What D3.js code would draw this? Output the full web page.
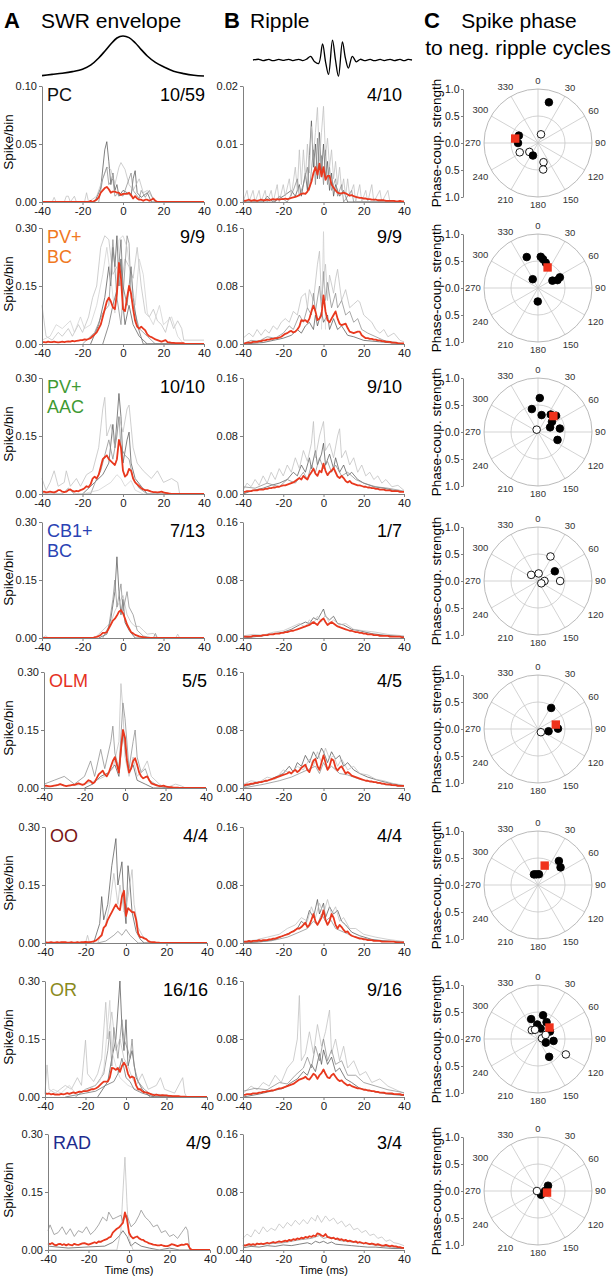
<!DOCTYPE html>
<html>
<head>
<meta charset="utf-8">
<title>SWR spike timing</title>
<script src="https://cdn.jsdelivr.net/npm/d3@7"></script>
<style>
  body { margin: 0; background: #fff; }
  svg text { font-family: Arial, "Liberation Sans", sans-serif; }
</style>
</head>
<body>
<svg width="615" height="1280" id="mainsvg"></svg>
<script>
// ---------- data ----------
const labelLines = [['PC'], ['PV+', 'BC'], ['PV+', 'AAC'], ['CB1+', 'BC'], ['OLM'], ['OO'], ['OR'], ['RAD']]
const labelColors = ['#111111', '#f07822', '#3f9a33', '#2a43b4', '#e5321f', '#7a1616', '#8a8a1c', '#1d2c8e']
const countsA = ['10/59', '9/9', '10/10', '7/13', '5/5', '4/4', '16/16', '4/9']
const countsB = ['4/10', '9/9', '9/10', '1/7', '4/5', '4/4', '9/16', '3/4']
const timeTicks = [-40, -20, 0, 20, 40]
const yMaxA = [0.10, 0.30, 0.30, 0.30, 0.30, 0.30, 0.30, 0.30]
const yMaxB = [0.02, 0.16, 0.16, 0.16, 0.16, 0.16, 0.16, 0.16]
const timeStart = -40   // mean traces: 1 ms bins from -40 to 40

// SWR envelope and ripple example traces (time ms, relative amplitude)
const swrEnvelope = [[-40,0.01],[-35,0.04],[-30,0.07],[-25,0.11],[-20,0.17],[-16,0.27],[-12,0.45],[-9,0.62],[-6,0.8],[-3,0.95],[0,1],[3,0.96],[6,0.83],[9,0.66],[12,0.5],[16,0.34],[20,0.23],[25,0.12],[30,0.06],[35,0.02],[40,0]]
const rippleTrace = [[-40,0],[-37,0.04],[-35,-0.03],[-32,0.03],[-30,-0.04],[-27,0.03],[-25,-0.02],[-22,0.04],[-20,-0.03],[-17,0.04],[-15,-0.03],[-13,0.05],[-11,0.2],[-9,-0.1],[-7,-0.2],[-5,0.9],[-3.5,-0.1],[-2,-0.8],[0,1.1],[1.5,0],[3,-0.9],[5,1.0],[6.5,0.1],[8,-0.45],[10,0.2],[12,-0.1],[14,0.04],[16,-0.03],[19,0.03],[21,-0.04],[24,0.03],[26,-0.03],[29,0.04],[31,-0.03],[34,0.03],[36,-0.04],[38,0.03],[40,0]]

// column A: mean spike probability around SWR envelope peak
const meanA = [
  [0,0,0,0,0,0,0,0,0,0, 0,0,0,0,0,0,0,0,0,0,
   0,0,0,0,0.001,0,0.001,0.002,0.004,0.008,
   0.010,0.012,0.013,0.011,0.008,0.009,0.009,0.008,0.008,0.006,
   0.007,0.007,0.007,0.008,0.006,0.003,0.005,0.003,0.002,0.002,
   0.001,0.002,0.002,0.001,0.002,0.003,0.001,0,0,0,
   0,0,0,0,0,0,0,0,0,0, 0,0,0,0,0,0,0,0,0,0,0],
  [0.005,0.005,0.004,0.006,0.005,0.005,0.006,0.005,0.004,0.005,
   0.006,0.005,0.006,0.007,0.006,0.008,0.007,0.008,0.009,0.01,
   0.01,0.012,0.011,0.013,0.015,0.02,0.025,0.03,0.04,0.05,
   0.07,0.09,0.11,0.12,0.11,0.095,0.09,0.13,0.21,0.17,
   0.09,0.085,0.12,0.15,0.13,0.09,0.06,0.045,0.04,0.045,
   0.04,0.035,0.025,0.02,0.018,0.015,0.012,0.01,0.008,0.006,
   0.008,0.01,0.005,0.004,0.003,0.003,0.002,0.002,0.002,0.002,
   0.002,0,0,0,0,0,0,0,0,0,0],
  [0.005,0.006,0.004,0.005,0.006,0.005,0.004,0.006,0.01,0.01,
   0.006,0.005,0.006,0.01,0.012,0.008,0.006,0.008,0.007,0.01,
   0.012,0.015,0.02,0.018,0.025,0.04,0.045,0.04,0.05,0.07,
   0.09,0.095,0.1,0.09,0.085,0.08,0.075,0.09,0.14,0.12,
   0.06,0.045,0.05,0.065,0.06,0.04,0.03,0.025,0.02,0.015,
   0.012,0.01,0.01,0.008,0.006,0.005,0.005,0.004,0.005,0.006,
   0.004,0.003,0.002,0.001,0,0,0,0,0,0,
   0,0,0,0,0,0,0,0,0,0,0],
  [0,0,0,0,0,0,0,0,0,0,
   0,0,0,0,0,0,0,0,0,0,
   0,0,0,0,0,0,0.002,0.003,0.005,0.008,
   0.013,0.013,0.015,0.025,0.035,0.045,0.05,0.058,0.068,0.072,
   0.064,0.05,0.035,0.025,0.015,0.012,0.008,0.006,0.004,0.003,
   0.002,0.001,0,0,0,0,0,0,0,0,
   0,0,0,0,0,0,0,0,0,0,
   0,0,0,0,0,0,0,0,0,0,0],
  [0.005,0.006,0.005,0.004,0.005,0.006,0.007,0.008,0.01,0.008,
   0.006,0.005,0.006,0.007,0.008,0.008,0.01,0.012,0.01,0.008,
   0.01,0.015,0.02,0.018,0.012,0.015,0.025,0.035,0.04,0.045,
   0.035,0.03,0.04,0.055,0.07,0.08,0.06,0.04,0.1,0.15,
   0.13,0.07,0.04,0.05,0.07,0.077,0.06,0.04,0.03,0.025,
   0.028,0.03,0.02,0.012,0.01,0.008,0.006,0.005,0.005,0.006,
   0.004,0.003,0.002,0.002,0.001,0.001,0.001,0,0,0,
   0,0,0,0,0,0,0,0,0,0,0],
  [0.002,0.001,0.001,0.002,0.001,0.001,0.002,0.001,0.002,0.002,
   0.002,0.001,0.001,0.002,0.001,0.001,0.002,0.001,0.002,0.002,
   0.003,0.002,0.002,0.003,0.004,0.006,0.01,0.015,0.02,0.04,
   0.045,0.06,0.07,0.08,0.09,0.1,0.09,0.085,0.12,0.135,
   0.07,0.09,0.085,0.08,0.08,0.06,0.025,0.015,0.015,0.012,
   0.01,0.005,0.003,0.002,0.002,0.001,0.001,0,0,0,
   0,0,0,0,0,0,0,0,0,0,
   0,0,0,0,0,0,0,0,0,0,0],
  [0.01,0.008,0.009,0.007,0.008,0.006,0.007,0.006,0.008,0.007,
   0.008,0.01,0.008,0.01,0.012,0.01,0.012,0.014,0.013,0.015,
   0.015,0.016,0.018,0.02,0.02,0.022,0.025,0.03,0.035,0.04,
   0.04,0.04,0.05,0.075,0.074,0.07,0.075,0.065,0.08,0.089,
   0.08,0.06,0.05,0.053,0.05,0.03,0.02,0.02,0.015,0.012,
   0.012,0.01,0.008,0.006,0.005,0.006,0.005,0.004,0.005,0.004,
   0.004,0.003,0.003,0.002,0.002,0.002,0.002,0.001,0.001,0.001,
   0,0,0,0,0,0,0,0,0,0,0],
  [0.017,0.015,0.018,0.014,0.012,0.015,0.016,0.013,0.015,0.012,
   0.015,0.013,0.012,0.016,0.014,0.013,0.015,0.017,0.018,0.016,
   0.014,0.016,0.018,0.02,0.018,0.022,0.021,0.024,0.026,0.028,
   0.032,0.034,0.045,0.05,0.055,0.058,0.064,0.07,0.097,0.08,
   0.045,0.035,0.03,0.033,0.035,0.03,0.027,0.026,0.022,0.02,
   0.017,0.016,0.014,0.013,0.012,0.012,0.013,0.011,0.01,0.01,
   0.012,0.015,0.014,0.012,0.01,0.012,0.014,0.013,0.015,0.015,
   0.005,0,0,0,0,0,0,0,0,0,0]
]

// column A: individual cells (time ms, spike/bin)
const cellsA = [
  [
    [[-14,0],[-11,0.012],[-9,0.045],[-8,0.052],[-7,0.035],[-6,0.015],[-5,0.025],[-4,0.01],[-3,0.015],[-2,0.005],[0,0.01],[2,0.008],[4,0.005],[5,0.02],[6,0.027],[7,0.008],[9,0.004],[12,0.008],[14,0],[16,0]],
    [[-40,0],[-35,0],[-34,0.004],[-33,0],[-29,0],[-28,0.005],[-27,0.005],[-26,0],[-24,0.005],[-23,0],[-19,0],[-18,0.008],[-17,0],[-13,0.005],[-10,0.02],[-8,0.03],[-6,0.028],[-4,0.015],[-2,0.03],[-1,0.034],[1,0.028],[3,0.015],[5,0.01],[8,0.02],[10,0.008],[12,0.01],[14,0.005],[16,0],[40,0]],
    [[-12,0],[-10,0.02],[-8,0.03],[-7,0.015],[-5,0.02],[-4,0.005],[-2,0.008],[0,0.005],[3,0.02],[4,0.025],[5,0.01],[8,0.003],[9,0.01],[11,0.004],[13,0.01],[15,0.002],[17,0]]
  ],
  [
    [[-16,0],[-12,0.05],[-9,0.12],[-7,0.2],[-6,0.15],[-5,0.25],[-4,0.2],[-3,0.28],[-2,0.15],[-1,0.22],[0,0.1],[1,0.05],[3,0.1],[5,0.05],[8,0.02],[12,0],[40,0]],
    [[-40,0.1],[-38,0.02],[-35,0.01],[-32,0.03],[-30,0.02],[-27,0.04],[-25,0.02],[-22,0.05],[-20,0.03],[-17,0.07],[-15,0.12],[-13,0.15],[-11,0.25],[-9,0.28],[-7,0.27],[-5,0.18],[-3,0.2],[-1,0.15],[1,0.22],[3,0.2],[5,0.17],[7,0.25],[9,0.15],[11,0.08],[13,0.07],[15,0.09],[17,0.06],[19,0.05],[21,0.03],[23,0.07],[25,0.04],[27,0.06],[29,0.04],[30,0.01],[40,0.01]],
    [[-20,0],[-14,0.03],[-10,0.08],[-7,0.1],[-5,0.27],[-3,0.12],[-1,0.05],[1,0.2],[2,0.28],[3,0.26],[4,0.12],[6,0.08],[8,0.04],[12,0.02],[16,0],[40,0]],
    [[-40,0.01],[-36,0.02],[-33,0.05],[-30,0.04],[-26,0.06],[-24,0.03],[-21,0.07],[-19,0.04],[-16,0.05],[-13,0.1],[-10,0.18],[-8,0.25],[-6,0.17],[-4,0.08],[-2,0.27],[0,0.28],[2,0.25],[4,0.17],[6,0.1],[8,0.22],[10,0.18],[12,0.08],[15,0.05],[18,0.1],[20,0.05],[24,0.07],[27,0.02],[30,0],[40,0]],
    [[-10,0],[-7,0.05],[-5,0.1],[-3,0.14],[-1,0.27],[0,0.15],[2,0.1],[4,0.2],[5,0.12],[7,0.05],[10,0],[40,0]]
  ],
  [
    [[-20,0],[-14,0.03],[-10,0.05],[-7,0.08],[-5,0.18],[-4,0.12],[-2,0.26],[-1,0.2],[0,0.08],[2,0.14],[3,0.16],[4,0.08],[6,0.04],[9,0.02],[12,0],[40,0]],
    [[-40,0.04],[-38,0.01],[-36,0.03],[-34,0.06],[-32,0.02],[-29,0.03],[-28,0.06],[-26,0.02],[-23,0.04],[-21,0.02],[-18,0.05],[-15,0.06],[-12,0.12],[-10,0.22],[-9,0.25],[-8,0.15],[-6,0.18],[-4,0.12],[-2,0.2],[0,0.16],[2,0.22],[3,0.23],[5,0.12],[7,0.08],[10,0.06],[14,0.04],[17,0.06],[20,0.03],[24,0.04],[27,0.03],[28,0],[40,0]],
    [[-40,0],[-30,0],[-27,0.015],[-24,0],[-16,0],[-13,0.04],[-11,0.06],[-9,0.1],[-7,0.14],[-5,0.09],[-3,0.15],[-2,0.2],[-1,0.12],[1,0.1],[3,0.09],[5,0.04],[8,0.015],[12,0],[40,0]],
    [[-20,0],[-12,0.01],[-6,0.03],[-3,0.05],[-1,0.04],[1,0.02],[4,0.035],[6,0.01],[10,0],[40,0]]
  ],
  [
    [[-12,0],[-8,0.01],[-6,0.05],[-4,0.12],[-3,0.21],[-2,0.12],[-1,0.06],[0,0.1],[1,0.04],[3,0.02],[6,0],[40,0]],
    [[-40,0],[-38,0.006],[-37,0],[-14,0],[-12,0.01],[-10,0.02],[-8,0.03],[-6,0.04],[-4,0.07],[-2,0.09],[0,0.11],[2,0.06],[4,0.04],[6,0.03],[8,0.03],[10,0.02],[12,0.01],[15,0.012],[17,0],[26,0],[27,0.01],[28,0],[40,0]],
    [[-10,0],[-7,0.03],[-5,0.1],[-4,0.15],[-3,0.08],[-1,0.14],[0,0.07],[2,0.12],[3,0.08],[5,0.06],[7,0.02],[10,0.005],[15,0],[16,0.012],[17,0],[40,0]]
  ],
  [
    [[-20,0],[-16,0.01],[-12,0.03],[-8,0.04],[-5,0.06],[-3,0.03],[-1,0.15],[0,0.1],[2,0.04],[4,0.06],[6,0.02],[10,0.01],[14,0],[40,0]],
    [[-40,0],[-32,0.01],[-28,0.005],[-20,0.01],[-14,0.02],[-10,0.03],[-6,0.05],[-3,0.12],[-2,0.27],[-1,0.2],[0,0.08],[2,0.03],[4,0.08],[6,0.03],[9,0.05],[11,0.07],[13,0.03],[17,0.01],[20,0],[25,0.01],[28,0.005],[30,0],[40,0]],
    [[-40,0.01],[-35,0.02],[-30,0.03],[-25,0.01],[-20,0.03],[-17,0.07],[-15,0.03],[-12,0.1],[-10,0.05],[-7,0.12],[-6,0.16],[-5,0.09],[-3,0.05],[-1,0.22],[0,0.18],[2,0.05],[4,0.12],[5,0.15],[6,0.08],[8,0.04],[10,0.05],[12,0.02],[15,0.01],[20,0],[40,0]]
  ],
  [
    [[-16,0],[-13,0.05],[-12,0.12],[-11,0.06],[-9,0.1],[-7,0.2],[-5,0.27],[-4,0.15],[-2,0.21],[-1,0.1],[0,0.05],[1,0.2],[2,0.15],[3,0.08],[5,0.03],[7,0.01],[9,0],[40,0]],
    [[-20,0],[-19,0.02],[-18,0],[-14,0],[-10,0.05],[-8,0.1],[-6,0.18],[-4,0.1],[-3,0.15],[-1,0.08],[1,0.12],[3,0.19],[4,0.1],[6,0.04],[8,0.02],[11,0.005],[14,0],[40,0]],
    [[-14,0],[-10,0.005],[-6,0.02],[-4,0.03],[-2,0.02],[0,0.035],[2,0.02],[4,0.01],[6,0],[40,0]]
  ],
  [
    [[-14,0],[-9,0.04],[-7,0.1],[-5,0.15],[-3,0.3],[-2,0.18],[-1,0.12],[0,0.2],[1,0.08],[3,0.12],[5,0.05],[8,0.02],[12,0],[40,0]],
    [[-40,0.01],[-39,0.083],[-38,0.02],[-35,0.01],[-30,0.03],[-27,0.02],[-24,0.05],[-22,0.03],[-20,0.147],[-19,0.06],[-16,0.04],[-14,0.06],[-12,0.1],[-10,0.245],[-9,0.15],[-7,0.22],[-5,0.12],[-3,0.15],[-1,0.1],[1,0.08],[3,0.05],[5,0.03],[8,0.06],[11,0.02],[15,0.03],[17,0.05],[19,0.02],[24,0.01],[28,0.05],[29,0.01],[30,0],[40,0]],
    [[-25,0],[-20,0.02],[-15,0.03],[-11,0.06],[-9,0.12],[-8,0.17],[-7,0.08],[-6,0.18],[-4,0.1],[-2,0.2],[-1,0.15],[1,0.12],[2,0.1],[3,0.15],[4,0.08],[6,0.04],[9,0.02],[14,0],[40,0]],
    [[-40,0.005],[-36,0.02],[-32,0.01],[-28,0.03],[-25,0.01],[-18,0.02],[-13,0.04],[-11,0.07],[-8,0.25],[-7,0.12],[-5,0.08],[-3,0.05],[-1,0.04],[1,0.03],[5,0.02],[10,0.01],[20,0.005],[30,0],[40,0]],
    [[-30,0],[-20,0.01],[-15,0.015],[-10,0.03],[-6,0.04],[-4,0.06],[-2,0.1],[0,0.05],[2,0.04],[4,0.02],[8,0.01],[14,0],[40,0]]
  ],
  [
    [[-40,0.01],[-30,0.005],[-20,0.008],[-12,0.01],[-8,0.02],[-5,0.035],[-3,0.05],[-1,0.035],[1,0.01],[3,0.02],[6,0.01],[10,0.005],[15,0],[20,0.005],[25,0],[30,0],[40,0]],
    [[-40,0],[-6,0],[-4,0.05],[-3,0.15],[-2,0.24],[-1,0.12],[0,0.03],[2,0],[40,0]],
    [[-40,0.05],[-39,0.065],[-37,0.04],[-35,0.045],[-33,0.06],[-31,0.04],[-29,0.055],[-27,0.035],[-25,0.05],[-23,0.045],[-21,0.06],[-19,0.04],[-17,0.05],[-15,0.065],[-13,0.085],[-11,0.075],[-10,0.098],[-8,0.08],[-6,0.085],[-4,0.09],[-3,0.075],[-1,0.09],[1,0.06],[3,0.07],[5,0.09],[6,0.103],[8,0.085],[10,0.075],[12,0.06],[14,0.065],[16,0.045],[18,0.05],[20,0.035],[22,0.04],[24,0.03],[26,0.045],[28,0.06],[29,0.05],[30,0],[40,0]]
  ]
]

// column B: mean spike probability around ripple troughs
const meanB = [
  [0.0003,0.0002,0.0003,0.0004,0.0002,0.0003,0.0003,0.0002,0.0003,0.0004,
   0.0003,0.0003,0.0004,0.0003,0.0004,0.0005,0.0004,0.0005,0.0004,0.0005,
   0.0005,0.0006,0.0005,0.0006,0.0007,0.0008,0.0009,0.001,0.0012,0.0014,
   0.0015,0.0014,0.0018,0.0025,0.0035,0.005,0.006,0.0047,0.0066,0.0044,
   0.006,0.0038,0.0045,0.0045,0.003,0.0025,0.002,0.0016,0.0015,0.0015,
   0.0016,0.0015,0.0013,0.0011,0.0012,0.001,0.0009,0.0008,0.0007,0.0007,
   0.0006,0.0006,0.0005,0.0005,0.0004,0.0004,0.0004,0.0003,0.0003,0.0003,
   0.0003,0.0002,0.0002,0.0002,0.0002,0.0002,0.0001,0.0001,0.0002,0.0001,0.0001],
  [0.001,0.001,0.002,0.002,0.002,0.003,0.003,0.003,0.004,0.004,
   0.005,0.005,0.006,0.006,0.007,0.007,0.008,0.008,0.009,0.01,
   0.012,0.014,0.015,0.017,0.018,0.016,0.017,0.02,0.024,0.033,
   0.032,0.033,0.03,0.035,0.045,0.053,0.045,0.033,0.035,0.04,
   0.067,0.045,0.033,0.03,0.035,0.04,0.045,0.035,0.028,0.026,
   0.027,0.028,0.022,0.017,0.016,0.015,0.016,0.017,0.017,0.012,
   0.01,0.008,0.008,0.007,0.007,0.006,0.006,0.005,0.005,0.004,
   0.004,0.003,0.003,0.003,0.002,0.002,0.002,0.001,0.001,0.001,0.001],
  [0.003,0.003,0.004,0.004,0.004,0.005,0.005,0.005,0.006,0.006,
   0.006,0.007,0.007,0.008,0.008,0.009,0.009,0.01,0.01,0.011,
   0.012,0.012,0.013,0.014,0.015,0.016,0.018,0.02,0.022,0.02,
   0.025,0.022,0.02,0.026,0.03,0.035,0.028,0.025,0.032,0.03,
   0.042,0.032,0.026,0.03,0.032,0.036,0.03,0.024,0.022,0.025,
   0.022,0.018,0.016,0.018,0.015,0.014,0.013,0.012,0.012,0.011,
   0.01,0.01,0.009,0.009,0.008,0.008,0.007,0.007,0.006,0.006,
   0.006,0.005,0.005,0.005,0.004,0.004,0.004,0.004,0.003,0.003,0.003],
  [0.002,0.002,0.002,0.002,0.002,0.003,0.003,0.003,0.003,0.003,
   0.004,0.004,0.004,0.005,0.005,0.005,0.006,0.006,0.006,0.007,
   0.007,0.008,0.008,0.009,0.01,0.01,0.011,0.012,0.013,0.014,
   0.015,0.016,0.017,0.018,0.02,0.022,0.02,0.018,0.022,0.025,
   0.027,0.022,0.018,0.02,0.022,0.02,0.018,0.016,0.015,0.014,
   0.013,0.012,0.011,0.01,0.01,0.009,0.008,0.008,0.007,0.007,
   0.006,0.006,0.005,0.005,0.005,0.004,0.004,0.004,0.003,0.003,
   0.003,0.003,0.003,0.002,0.002,0.002,0.002,0.002,0.002,0.001,0.001],
  [0.004,0.004,0.005,0.005,0.006,0.006,0.007,0.007,0.008,0.008,
   0.009,0.01,0.01,0.011,0.012,0.013,0.014,0.015,0.016,0.017,
   0.018,0.019,0.02,0.022,0.02,0.023,0.025,0.022,0.024,0.028,
   0.03,0.032,0.025,0.022,0.03,0.038,0.04,0.03,0.025,0.035,
   0.045,0.035,0.025,0.03,0.04,0.038,0.028,0.024,0.028,0.03,
   0.025,0.02,0.022,0.02,0.017,0.016,0.015,0.014,0.013,0.012,
   0.011,0.01,0.01,0.009,0.009,0.008,0.008,0.007,0.007,0.006,
   0.006,0.005,0.005,0.005,0.004,0.004,0.004,0.003,0.003,0.003,0.003],
  [0.002,0.002,0.002,0.003,0.002,0.003,0.003,0.003,0.004,0.003,
   0.004,0.004,0.004,0.005,0.005,0.006,0.006,0.007,0.008,0.009,
   0.01,0.011,0.012,0.013,0.015,0.016,0.018,0.02,0.02,0.022,
   0.025,0.028,0.022,0.025,0.032,0.04,0.03,0.025,0.03,0.035,
   0.045,0.032,0.025,0.03,0.04,0.035,0.025,0.02,0.025,0.022,
   0.018,0.015,0.016,0.012,0.01,0.009,0.008,0.007,0.006,0.006,
   0.005,0.005,0.004,0.004,0.004,0.003,0.003,0.003,0.003,0.002,
   0.002,0.002,0.002,0.002,0.002,0.002,0.001,0.001,0.001,0.001,0.001],
  [0.003,0.003,0.004,0.004,0.004,0.005,0.005,0.005,0.006,0.006,
   0.007,0.007,0.008,0.008,0.009,0.009,0.01,0.011,0.012,0.012,
   0.013,0.014,0.015,0.016,0.017,0.018,0.02,0.022,0.024,0.025,
   0.026,0.028,0.025,0.024,0.028,0.032,0.03,0.025,0.03,0.033,
   0.038,0.032,0.027,0.026,0.03,0.032,0.028,0.024,0.022,0.023,
   0.02,0.018,0.016,0.017,0.015,0.014,0.013,0.012,0.012,0.011,
   0.01,0.01,0.009,0.009,0.008,0.008,0.007,0.007,0.006,0.006,
   0.006,0.005,0.005,0.005,0.005,0.004,0.004,0.004,0.004,0.003,0.003],
  [0.007,0.006,0.007,0.008,0.007,0.008,0.007,0.009,0.008,0.009,
   0.008,0.009,0.01,0.009,0.01,0.011,0.01,0.011,0.012,0.011,
   0.012,0.013,0.012,0.014,0.013,0.015,0.014,0.016,0.015,0.017,
   0.016,0.018,0.017,0.019,0.018,0.02,0.019,0.023,0.022,0.02,
   0.019,0.022,0.018,0.017,0.016,0.017,0.015,0.016,0.014,0.015,
   0.013,0.014,0.012,0.013,0.012,0.011,0.012,0.01,0.011,0.01,
   0.009,0.01,0.009,0.008,0.009,0.008,0.007,0.008,0.007,0.006,
   0.006,0.007,0.006,0.005,0.006,0.005,0.005,0.004,0.004,0.003,0.003]
]

// column B: individual cells (time ms, spike/bin)
const cellsB = [
  [
    [[-40,0],[-30,0],[-28,0.001],[-25,0],[-20,0.001],[-16,0.002],[-14,0.001],[-12,0.003],[-11,0.001],[-9,0.005],[-8,0.002],[-7,0.008],[-6,0.014],[-5,0.006],[-4,0.01],[-3,0.004],[-2,0.012],[-1,0.005],[0,0.01],[1,0.004],[2,0.007],[3,0.002],[4,0.005],[5,0.001],[6,0.003],[8,0.001],[10,0.002],[12,0],[40,0]],
    [[-40,0],[-38,0.002],[-37,0],[-35,0.002],[-34,0],[-32,0.002],[-31,0],[-29,0.002],[-28,0],[-26,0.002],[-25,0],[-23,0.003],[-22,0],[-20,0.003],[-19,0.001],[-17,0.004],[-16,0.001],[-14,0.006],[-13,0.002],[-12,0.009],[-11,0.003],[-10,0.009],[-9,0.004],[-8,0.01],[-7,0.005],[-6,0.013],[-5,0.008],[-4,0.012],[-3,0.0163],[-2,0.007],[-1,0.012],[0,0.0165],[1,0.008],[2,0.011],[3,0.006],[4,0.009],[5,0.004],[6,0.007],[7,0.003],[8,0.006],[9,0.002],[10,0.004],[11,0.001],[12,0.004],[13,0.001],[15,0.003],[16,0],[18,0.003],[19,0],[21,0.002],[22,0],[24,0.003],[25,0],[28,0.002],[29,0],[32,0.002],[33,0],[40,0]],
    [[-40,0],[-24,0],[-22,0.001],[-18,0],[-15,0.002],[-13,0.004],[-12,0.001],[-10,0.003],[-8,0.006],[-7,0.002],[-5,0.009],[-4,0.003],[-3,0.011],[-2,0.004],[-1,0.008],[0,0.003],[1,0.009],[2,0.003],[3,0.006],[4,0.002],[6,0.004],[7,0.001],[9,0.003],[10,0],[14,0.002],[15,0],[40,0]]
  ],
  [
    [[-40,0],[-30,0.002],[-25,0.005],[-20,0.008],[-16,0.012],[-13,0.02],[-11,0.015],[-9,0.025],[-7,0.03],[-5,0.02],[-4,0.04],[-3,0.025],[-1,0.045],[0,0.03],[2,0.04],[3,0.02],[5,0.035],[7,0.02],[9,0.025],[12,0.012],[15,0.01],[20,0.005],[28,0.003],[40,0]],
    [[-40,0.008],[-37,0.015],[-35,0.01],[-33,0.02],[-31,0.012],[-29,0.02],[-27,0.015],[-25,0.025],[-23,0.02],[-21,0.03],[-19,0.035],[-17,0.03],[-15,0.045],[-13,0.04],[-11,0.065],[-9,0.07],[-8,0.05],[-7,0.075],[-5,0.06],[-3,0.11],[-2,0.128],[-1,0.06],[0,0.09],[1,0.11],[2,0.06],[3,0.095],[5,0.07],[6,0.09],[7,0.103],[9,0.06],[11,0.075],[13,0.05],[15,0.055],[17,0.06],[18,0.058],[20,0.04],[22,0.035],[24,0.03],[26,0.02],[28,0.015],[30,0.02],[32,0.01],[35,0.015],[38,0.005],[40,0.003]],
    [[-40,0],[-36,0.005],[-32,0.004],[-28,0.01],[-24,0.008],[-20,0.015],[-17,0.025],[-15,0.02],[-12,0.04],[-10,0.03],[-8,0.05],[-6,0.04],[-5,0.07],[-4,0.045],[-2,0.08],[-1,0.05],[0,0.1],[1,0.06],[2,0.085],[4,0.05],[6,0.07],[7,0.05],[9,0.06],[11,0.04],[13,0.045],[15,0.03],[17,0.035],[19,0.02],[22,0.015],[26,0.01],[30,0.005],[36,0.002],[40,0]],
    [[-1,0.02],[0,0.155],[1,0.02]]
  ],
  [
    [[-40,0],[-35,0.005],[-30,0.008],[-26,0.012],[-22,0.015],[-18,0.02],[-15,0.03],[-13,0.025],[-11,0.04],[-9,0.03],[-7,0.05],[-6,0.035],[-4,0.06],[-3,0.04],[-1,0.055],[0,0.07],[1,0.04],[3,0.055],[5,0.035],[6,0.05],[8,0.03],[10,0.04],[12,0.025],[14,0.03],[17,0.02],[20,0.015],[25,0.01],[30,0.008],[35,0.005],[40,0.003]],
    [[-40,0.005],[-38,0.015],[-36,0.01],[-34,0.02],[-32,0.012],[-30,0.025],[-28,0.015],[-26,0.03],[-24,0.02],[-22,0.035],[-20,0.025],[-18,0.04],[-16,0.03],[-14,0.05],[-12,0.035],[-10,0.06],[-8,0.045],[-6,0.07],[-5,0.1],[-4,0.05],[-2,0.08],[0,0.1],[1,0.06],[3,0.07],[5,0.05],[7,0.08],[8,0.09],[9,0.05],[11,0.06],[13,0.04],[15,0.05],[17,0.03],[19,0.04],[21,0.025],[23,0.03],[25,0.02],[27,0.025],[29,0.015],[31,0.02],[34,0.01],[37,0.012],[40,0.005]],
    [[-40,0.01],[-34,0.008],[-28,0.015],[-22,0.01],[-18,0.02],[-14,0.015],[-10,0.03],[-8,0.02],[-6,0.04],[-4,0.03],[-2,0.05],[0,0.035],[2,0.045],[4,0.03],[6,0.04],[9,0.025],[12,0.03],[16,0.02],[20,0.015],[26,0.01],[32,0.008],[40,0.004]]
  ],
  [
    [[-40,0],[-30,0.003],[-24,0.006],[-20,0.008],[-16,0.012],[-12,0.018],[-9,0.022],[-7,0.02],[-5,0.028],[-3,0.025],[-1,0.035],[0,0.04],[1,0.03],[3,0.025],[5,0.03],[7,0.02],[10,0.018],[14,0.012],[18,0.01],[24,0.006],[30,0.004],[40,0.002]],
    [[-40,0.003],[-35,0.005],[-30,0.004],[-25,0.008],[-20,0.01],[-16,0.015],[-12,0.02],[-9,0.015],[-7,0.025],[-5,0.02],[-3,0.03],[-1,0.022],[1,0.032],[3,0.02],[5,0.025],[8,0.018],[11,0.02],[15,0.012],[20,0.01],[26,0.008],[32,0.005],[40,0.003]]
  ],
  [
    [[-40,0.002],[-34,0.006],[-28,0.01],[-24,0.015],[-20,0.02],[-17,0.03],[-15,0.022],[-13,0.035],[-11,0.03],[-9,0.045],[-7,0.035],[-5,0.05],[-3,0.04],[-1,0.055],[0,0.05],[2,0.035],[4,0.05],[6,0.04],[8,0.045],[10,0.03],[12,0.035],[15,0.025],[18,0.02],[22,0.015],[28,0.01],[34,0.006],[40,0.003]],
    [[-40,0.005],[-36,0.01],[-32,0.008],[-28,0.015],[-24,0.012],[-20,0.025],[-16,0.02],[-13,0.03],[-10,0.025],[-7,0.04],[-5,0.03],[-3,0.05],[-1,0.035],[1,0.055],[3,0.04],[5,0.045],[7,0.03],[9,0.04],[12,0.025],[15,0.03],[18,0.02],[22,0.018],[26,0.012],[30,0.01],[35,0.006],[40,0.004]],
    [[-40,0],[-30,0.005],[-22,0.01],[-16,0.015],[-12,0.02],[-8,0.025],[-4,0.03],[-2,0.02],[0,0.035],[2,0.025],[4,0.03],[8,0.02],[12,0.018],[18,0.012],[25,0.008],[32,0.004],[40,0.002]]
  ],
  [
    [[-40,0],[-30,0.002],[-24,0.005],[-20,0.01],[-16,0.015],[-13,0.02],[-11,0.03],[-9,0.025],[-7,0.045],[-5,0.035],[-3,0.06],[-2,0.04],[0,0.055],[1,0.035],[3,0.05],[5,0.04],[7,0.045],[9,0.03],[11,0.025],[14,0.015],[18,0.01],[24,0.005],[30,0.003],[40,0.001]],
    [[-40,0.002],[-34,0.004],[-28,0.008],[-22,0.012],[-18,0.02],[-14,0.025],[-11,0.035],[-8,0.03],[-6,0.05],[-4,0.035],[-2,0.055],[0,0.04],[2,0.06],[4,0.04],[6,0.05],[8,0.03],[10,0.035],[13,0.02],[16,0.02],[20,0.012],[26,0.008],[32,0.005],[40,0.002]],
    [[-40,0],[-26,0.003],[-18,0.008],[-12,0.015],[-8,0.02],[-5,0.03],[-3,0.025],[-1,0.04],[1,0.03],[3,0.035],[6,0.02],[10,0.015],[16,0.008],[24,0.004],[40,0.001]]
  ],
  [
    [[-40,0],[-32,0.004],[-26,0.008],[-20,0.012],[-16,0.02],[-13,0.025],[-10,0.035],[-8,0.03],[-6,0.045],[-4,0.035],[-2,0.06],[-1,0.045],[0,0.065],[2,0.045],[4,0.055],[6,0.035],[8,0.04],[11,0.025],[14,0.02],[18,0.012],[24,0.008],[32,0.004],[40,0.002]],
    [[-40,0.005],[-36,0.015],[-33,0.01],[-30,0.02],[-27,0.015],[-24,0.03],[-21,0.02],[-18,0.04],[-15,0.05],[-13,0.08],[-12,0.14],[-11,0.05],[-9,0.06],[-7,0.09],[-5,0.06],[-3,0.1],[-1,0.07],[1,0.09],[3,0.12],[4,0.06],[6,0.08],[8,0.05],[10,0.07],[12,0.04],[15,0.05],[18,0.03],[21,0.035],[24,0.02],[28,0.025],[32,0.015],[36,0.01],[40,0.005]],
    [[-40,0.008],[-34,0.012],[-28,0.01],[-22,0.02],[-18,0.018],[-14,0.03],[-10,0.04],[-8,0.055],[-6,0.04],[-4,0.07],[-2,0.05],[0,0.08],[2,0.05],[4,0.065],[6,0.045],[9,0.05],[12,0.03],[16,0.03],[20,0.02],[26,0.015],[32,0.01],[40,0.006]]
  ],
  [
    [[-40,0.003],[-36,0.005],[-32,0.004],[-28,0.006],[-24,0.005],[-20,0.007],[-16,0.006],[-12,0.008],[-8,0.01],[-6,0.008],[-4,0.012],[-2,0.01],[0,0.012],[2,0.009],[4,0.011],[6,0.008],[10,0.007],[14,0.006],[18,0.005],[22,0.004],[26,0.004],[30,0.003],[35,0.002],[40,0.002]],
    [[-40,0.016],[-38,0.022],[-36,0.018],[-34,0.028],[-32,0.022],[-30,0.032],[-28,0.025],[-26,0.03],[-24,0.027],[-22,0.036],[-20,0.03],[-18,0.038],[-16,0.033],[-14,0.041],[-12,0.035],[-10,0.042],[-8,0.036],[-6,0.045],[-4,0.04],[-3,0.048],[-1,0.038],[1,0.047],[3,0.04],[5,0.044],[7,0.036],[9,0.04],[11,0.032],[13,0.036],[15,0.028],[17,0.03],[19,0.024],[21,0.027],[23,0.02],[25,0.022],[27,0.016],[29,0.018],[31,0.012],[33,0.014],[35,0.01],[37,0.009],[40,0.006]],
    [[-40,0.006],[-30,0.008],[-20,0.01],[-12,0.014],[-6,0.016],[-2,0.02],[0,0.016],[3,0.018],[8,0.013],[14,0.011],[20,0.009],[28,0.006],[34,0.004],[40,0.003]]
  ]
]

// column C: spike phase (deg, 0 = ripple trough) and coupling strength, filled = significant
const phaseCells = [
  [[15,0.78,1],[19,0.17,0],[291,0.38,1],[270,0.37,1],[243,0.38,0],[224,0.23,0],[202,0.25,1],[164,0.37,0],[169,0.50,0]],
  [[340,0.61,1],[5,0.58,1],[10,0.54,1],[17,0.49,1],[329,0.19,1],[63,0.30,1],[68,0.39,1],[64,0.45,1],[181,0.25,1]],
  [[3,0.63,1],[345,0.44,1],[12,0.32,1],[36,0.40,1],[48,0.45,1],[54,0.32,1],[69,0.24,1],[81,0.41,1],[112,0.39,1],[330,0.05,0]],
  [[27,0.51,0],[60,0.36,1],[90,0.41,0],[312,0.17,0],[5,0.14,0],[90,0.12,0],[125,0.075,0]],
  [[32,0.46,1],[89,0.37,1],[102,0.20,1],[138,0.08,0]],
  [[41,0.59,1],[52,0.53,1],[339,0.21,1],[351,0.20,1],[5,0.20,1]],
  [[12,0.45,1],[341,0.39,1],[357,0.27,1],[14,0.20,1],[27,0.35,1],[58,0.26,1],[325,0.20,0],[342,0.18,0],[80,0.075,0],[62,0.16,0],[97,0.29,1],[115,0.16,1],[148,0.39,1],[119,0.59,0]],
  [[62,0.21,1],[90,0.13,1],[141,0.09,1],[270,0.02,0]]
]
const phaseMean = [[281,0.43],[25,0.42],[44,0.41],null,[76,0.34],[19,0.38],[45,0.30],[100,0.17]]
const angleTicks = [0,30,60,90,120,150,180,210,240,270,300,330]
const ringTicks = [0.5, 1.0]
const strengthTicks = [-1, -0.5, 0, 0.5, 1]

// ---------- layout ----------
const svg = d3.select('#mainsvg')
const rowZero = [202, 344, 494, 638, 788, 943, 1097, 1250]
const plotH = 116
const shiftA = [0, 0, 0, 0, 2, 3, 3, 6]
const colA = [42, 204]
const colB = [243, 404]
const polarCx = 538
const polarCy = [143, 288, 432, 581, 729, 885, 1039, 1191]
const polarR = 54
const greys = ['#585858', '#bfbfbf', '#8c8c8c', '#d0d0d0', '#6c6c6c']
const red = '#e8381e'
const axisGrey = '#808080'

function styleAxis(sel, fs) {
  sel.select('.domain').attr('stroke', axisGrey)
  sel.selectAll('.tick line').attr('stroke', axisGrey)
  sel.selectAll('.tick text').attr('fill', '#1a1a1a').style('font-size', fs + 'px')
}

function panel(xr, zero, yMax, mean, traces, withTime) {
  const g = svg.append('g')
  const x = d3.scaleLinear().domain([-40, 40]).range(xr)
  const y = d3.scaleLinear().domain([0, yMax]).range([zero, zero - plotH])
  const line = d3.line().x(d => x(d[0])).y(d => y(Math.min(d[1], yMax)))

  g.selectAll('path.cell').data(traces).join('path')
    .attr('class', 'cell')
    .attr('d', line)
    .attr('fill', 'none')
    .attr('stroke', (d, i) => greys[i % greys.length])
    .attr('stroke-width', 0.75)

  g.append('path')
    .datum(mean.map((v, i) => [timeStart + i, v]))
    .attr('d', line)
    .attr('fill', 'none')
    .attr('stroke', red)
    .attr('stroke-width', 1.8)
    .attr('stroke-linejoin', 'round')

  const ay = g.append('g').attr('transform', `translate(${xr[0]},0)`)
    .call(d3.axisLeft(y).tickValues([0, yMax / 2, yMax]).tickFormat(d3.format('.2f'))
      .tickSize(3).tickSizeOuter(0).tickPadding(2))
  styleAxis(ay, 11)
  const ax = g.append('g').attr('transform', `translate(0,${zero})`)
    .call(d3.axisBottom(x).tickValues(timeTicks).tickFormat(d => String(d))
      .tickSize(3).tickSizeOuter(0).tickPadding(2))
  styleAxis(ax, 11.5)

  if (withTime) {
    g.append('text').attr('x', (xr[0] + xr[1]) / 2).attr('y', zero + 24)
      .attr('text-anchor', 'middle').style('font-size', '11px').text('Time (ms)')
  }
  return g
}

function polar(row) {
  const cy = polarCy[row]
  const r = d3.scaleLinear().domain([0, 1]).range([0, polarR])
  const pt = (a, v) => [r(v) * Math.sin(a * Math.PI / 180), -r(v) * Math.cos(a * Math.PI / 180)]
  const g = svg.append('g').attr('transform', `translate(${polarCx},${cy})`)

  g.selectAll('line.spoke').data(angleTicks).join('line')
    .attr('class', 'spoke')
    .attr('x1', 0).attr('y1', 0)
    .attr('x2', d => pt(d, 1)[0]).attr('y2', d => pt(d, 1)[1])
    .attr('stroke', '#c8c8c8').attr('stroke-width', 0.8)
  g.selectAll('circle.ring').data(ringTicks).join('circle')
    .attr('class', 'ring')
    .attr('r', d => r(d)).attr('fill', 'none')
    .attr('stroke', d => d === 1 ? '#a8a8a8' : '#c8c8c8').attr('stroke-width', 0.8)

  g.selectAll('text.ang').data(angleTicks).join('text')
    .attr('class', 'ang')
    .each(function (d) {
      const s = Math.abs(Math.sin(d * Math.PI / 180)), c = Math.abs(Math.cos(d * Math.PI / 180))
      const w = String(d).length * 5.4
      const rr = (polarR + 3) / polarR + (w / 2 * s + 5 * c) / polarR
      const p = pt(d, rr)
      d3.select(this).attr('x', p[0]).attr('y', p[1] + 3.3)
    })
    .attr('text-anchor', 'middle')
    .style('font-size', '9.5px').attr('fill', '#333')
    .text(d => d)

  g.selectAll('circle.cell').data(phaseCells[row]).join('circle')
    .attr('class', 'cell')
    .attr('cx', d => pt(d[0], d[1])[0])
    .attr('cy', d => pt(d[0], d[1])[1])
    .attr('r', 3.8)
    .attr('fill', d => d[2] ? '#000' : '#fff')
    .attr('stroke', '#000').attr('stroke-width', 0.9)

  const m = phaseMean[row]
  if (m) {
    const p = pt(m[0], m[1])
    g.append('rect').attr('x', p[0] - 4.2).attr('y', p[1] - 4.2)
      .attr('width', 8.4).attr('height', 8.4).attr('fill', '#f0321c')
  }

  const ys = d3.scaleLinear().domain([-1, 1]).range([cy + polarR, cy - polarR])
  const ay = svg.append('g').attr('transform', 'translate(463,0)')
    .call(d3.axisLeft(ys).tickValues(strengthTicks).tickFormat(d => Math.abs(d).toFixed(1))
      .tickSize(2).tickSizeOuter(0).tickPadding(1.5))
  styleAxis(ay, 10.5)
  svg.append('text')
    .attr('transform', `translate(441,${cy}) rotate(-90)`)
    .attr('text-anchor', 'middle').style('font-size', '13.5px')
    .text('Phase-coup. strength')
}

// ---------- headers ----------
const head = [
  { t: 'A', x: 4, y: 28, b: true }, { t: 'SWR envelope', x: 41, y: 28 },
  { t: 'B', x: 224, y: 28, b: true }, { t: 'Ripple', x: 250, y: 28 },
  { t: 'C', x: 424, y: 28, b: true }
]
svg.selectAll('text.head').data(head).join('text')
  .attr('class', 'head')
  .attr('x', d => d.x).attr('y', d => d.y)
  .style('font-size', d => d.b ? '22px' : '21px')
  .style('font-weight', d => d.b ? 'bold' : 'normal')
  .text(d => d.t)
svg.append('text').attr('x', 519).attr('y', 28).attr('text-anchor', 'middle')
  .style('font-size', '21px').text('Spike phase')
svg.append('text').attr('x', 518).attr('y', 55).attr('text-anchor', 'middle')
  .style('font-size', '21px').text('to neg. ripple cycles')

const xHeadA = d3.scaleLinear().domain([-40, 40]).range(colA)
const yHeadA = d3.scaleLinear().domain([0, 1]).range([76, 36])
svg.append('path').datum(swrEnvelope)
  .attr('d', d3.line().x(d => xHeadA(d[0])).y(d => yHeadA(d[1])).curve(d3.curveMonotoneX))
  .attr('fill', 'none').attr('stroke', '#000').attr('stroke-width', 1.6)
const xHeadB = d3.scaleLinear().domain([-40, 40]).range([colB[0] + 10, colB[1] + 8])
const yHeadB = d3.scaleLinear().domain([-1, 1]).range([78, 42])
svg.append('path').datum(rippleTrace)
  .attr('d', d3.line().x(d => xHeadB(d[0])).y(d => yHeadB(d[1])).curve(d3.curveCatmullRom))
  .attr('fill', 'none').attr('stroke', '#000').attr('stroke-width', 1.3)

// ---------- rows ----------
rowZero.forEach((zero, i) => {
  const last = i === rowZero.length - 1
  const xa = [colA[0] + shiftA[i], colA[1] + shiftA[i]]
  panel(xa, zero, yMaxA[i], meanA[i], cellsA[i], last)
  panel(colB, zero, yMaxB[i], meanB[i], cellsB[i], last)

  const top = zero - plotH
  svg.append('text')
    .attr('transform', `translate(13,${zero - 60}) rotate(-90)`)
    .attr('text-anchor', 'middle').style('font-size', '13.5px')
    .text('Spike/bin')
  labelLines[i].forEach((s, k) => {
    svg.append('text').attr('x', xa[0] + 5).attr('y', top + 15 + k * 20)
      .style('font-size', '18px').attr('fill', labelColors[i]).text(s)
  })
  svg.append('text').attr('x', xa[1] + 1).attr('y', top + 15)
    .attr('text-anchor', 'end').style('font-size', '18px').text(countsA[i])
  svg.append('text').attr('x', colB[1] - 2).attr('y', top + 15)
    .attr('text-anchor', 'end').style('font-size', '18px').text(countsB[i])

  polar(i)
})
</script>
</body>
</html>
